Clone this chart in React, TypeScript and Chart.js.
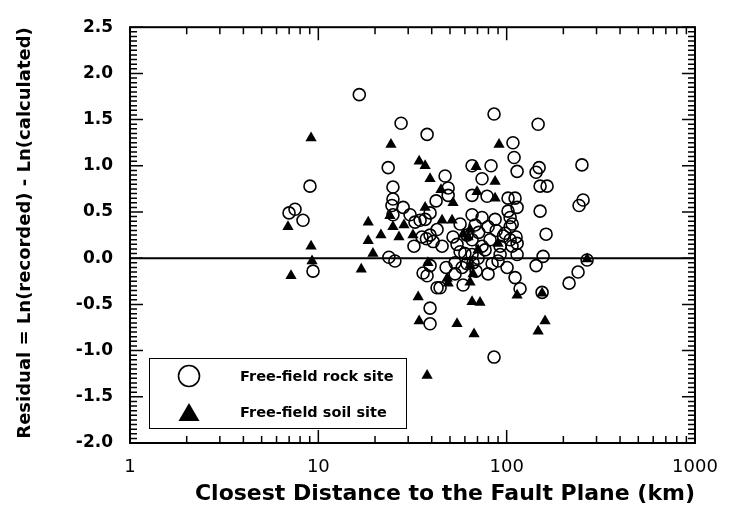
import React, { useEffect, useRef } from 'react';
import { Chart, registerables } from 'chart.js';

Chart.register(...registerables);

// ---- Data ----
const rockDistance = [
  6.99, 7.52, 8.29, 9.03, 9.37, 16.5, 27.5, 37.8, 85.7, 146.9,
  108, 109.5, 113.6, 23.5, 65.5, 82.6, 148.7, 143.3, 251, 47.1,
  74.0, 48.9, 150.5, 163.9, 24.9, 24.9, 24.6, 28.2, 30.7, 24.9,
  32.6, 65.5, 78.7, 101.7, 110.8, 113.6, 101.7, 150.5, 254.5, 242.4,
  161.9, 42.2, 39.2, 36.9, 39.2, 32.2, 35.5, 42.7, 65.5, 74.0,
  68.0, 79.7, 86.8, 56.6, 104.3, 104.3, 112.2, 113.6, 106.8, 92.3,
  65.5, 156.1, 23.7, 25.5, 37.5, 40.7, 45.4, 54.5, 61.6, 65.5,
  74.0, 81.6, 92.3, 104.3, 113.6, 36.0, 39.2, 53.2, 58.0, 61.6,
  66.3, 83.7, 90.0, 100.5, 110.8, 117.8, 44.3, 58.7, 39.2, 39.2,
  85.7, 154.2, 214.5, 239.4, 143.3, 267.3, 37.8, 42.7, 48.9, 34.7,
  56.6, 70.5, 76.8, 98.1, 51.9, 68.8, 47.7, 79.7, 53.2, 88.0,
  96.0, 60.0, 71.0, 107.0,
];
const rockResidual = [
  0.49, 0.53, 0.41, 0.78, -0.14, 1.77, 1.46, 1.34, 1.56, 1.45,
  1.25, 1.09, 0.94, 0.98, 1.0, 1.0, 0.98, 0.93, 1.01, 0.89,
  0.86, 0.76, 0.78, 0.78, 0.77, 0.64, 0.57, 0.55, 0.47, 0.47,
  0.39, 0.68, 0.67, 0.65, 0.65, 0.55, 0.51, 0.51, 0.63, 0.57,
  0.26, 0.62, 0.49, 0.42, 0.25, 0.13, 0.23, 0.31, 0.47, 0.44,
  0.36, 0.34, 0.42, 0.37, 0.44, 0.34, 0.23, 0.16, 0.13, 0.13,
  0.2, 0.02, 0.01, -0.03, 0.21, 0.18, 0.13, 0.15, 0.25, 0.04,
  0.13, 0.2, 0.04, 0.2, 0.04, -0.16, -0.08, -0.05, -0.1, -0.06,
  -0.05, -0.06, -0.03, -0.1, -0.21, -0.33, -0.32, -0.29, -0.54, -0.71,
  -1.07, -0.37, -0.27, -0.15, -0.08, -0.02, -0.19, -0.32, 0.68, 0.41,
  0.07, 0.0, 0.09, 0.27, 0.23, -0.14, -0.1, -0.17, -0.17, 0.3,
  0.24, 0.05, 0.28, 0.37,
];
const soilDistance = [
  6.9, 9.15, 9.15, 9.26, 7.16, 16.9, 18.4, 18.4, 19.5, 21.5,
  24.3, 24.0, 24.9, 26.8, 28.5, 31.8, 34.3, 36.9, 39.2, 36.9,
  44.8, 51.9, 45.4, 51.3, 58.7, 63.9, 68.8, 91.1, 86.8, 69.6,
  86.8, 90.0, 62.4, 267.3, 38.2, 33.9, 34.3, 48.3, 48.9, 63.9,
  66.3, 63.9, 65.5, 72.2, 54.5, 67.1, 37.8, 113.6, 159.9, 146.9,
  154.2, 70.5,
];
const soilResidual = [
  0.34, 1.3, 0.13, -0.03, -0.19, -0.12, 0.39, 0.19, 0.05, 0.25,
  1.23, 0.46, 0.34, 0.23, 0.36, 0.25, 1.05, 1.0, 0.86, 0.55,
  0.74, 0.6, 0.41, 0.41, 0.26, 0.31, 0.99, 1.23, 0.83, 0.72,
  0.65, 0.16, 0.23, -0.01, -0.05, -0.42, -0.68, -0.22, -0.27, -0.08,
  -0.17, -0.26, -0.47, -0.48, -0.71, -0.82, -1.27, -0.4, -0.68, -0.79,
  -0.38, 0.09,
];
const xTickValues = [1, 10, 100, 1000];
const yMin = -2.0;
const yMax = 2.5;
const yStep = 0.5;
const xTitle = 'Closest Distance to the Fault Plane (km)';
const yTitle = 'Residual = Ln(recorded) - Ln(calculated)';
const legendLabels = ['Free-field rock site', 'Free-field soil site'];

const FONT = "'DejaVu Sans', sans-serif";

const framePlugin = {
  id: 'frame',
  beforeDatasetsDraw(chart: any) {
    const { ctx, chartArea: a, scales } = chart;
    const y0 = scales.y.getPixelForValue(0);
    ctx.save();
    ctx.strokeStyle = '#000';
    ctx.lineWidth = 2;
    ctx.beginPath();
    ctx.moveTo(a.left, y0);
    ctx.lineTo(a.right, y0);
    ctx.stroke();
    ctx.restore();
  },
  afterDatasetsDraw(chart: any) {
    const { ctx, chartArea: a, scales } = chart;
    const x = scales.x;
    const y = scales.y;
    ctx.save();
    ctx.strokeStyle = '#000';
    ctx.lineWidth = 1.5;
    ctx.beginPath();
    const n = Math.round((yMax - yMin) / 0.05);
    for (let i = 0; i <= n; i++) {
      const v = yMin + i * 0.05;
      const py = y.getPixelForValue(v);
      const len = i % 10 === 0 ? 13 : 7;
      ctx.moveTo(a.left, py);
      ctx.lineTo(a.left + len, py);
      ctx.moveTo(a.right, py);
      ctx.lineTo(a.right - len, py);
    }
    for (let dec = 1; dec < 1000; dec *= 10) {
      for (let m = 1; m < 10; m++) {
        const px = x.getPixelForValue(dec * m);
        const len = m === 1 ? 13 : 7;
        ctx.moveTo(px, a.bottom);
        ctx.lineTo(px, a.bottom - len);
        ctx.moveTo(px, a.top);
        ctx.lineTo(px, a.top + len);
      }
    }
    ctx.stroke();
    ctx.lineWidth = 2;
    ctx.strokeRect(a.left, a.top, a.right - a.left, a.bottom - a.top);
    ctx.restore();
  },
  afterDraw(chart: any) {
    const { ctx } = chart;
    ctx.save();
    const bx = 149, by = 358, bw = 257, bh = 70;
    ctx.fillStyle = '#fff';
    ctx.fillRect(bx, by, bw, bh);
    ctx.strokeStyle = '#000';
    ctx.lineWidth = 1;
    ctx.strokeRect(bx + 0.5, by + 0.5, bw, bh);
    // circle symbol
    ctx.lineWidth = 1.6;
    ctx.beginPath();
    ctx.arc(189, 376, 10.5, 0, Math.PI * 2);
    ctx.stroke();
    // triangle symbol
    ctx.fillStyle = '#000';
    ctx.beginPath();
    ctx.moveTo(189, 403);
    ctx.lineTo(199.5, 421);
    ctx.lineTo(178.5, 421);
    ctx.closePath();
    ctx.fill();
    ctx.font = `bold 14.5px ${FONT}`;
    ctx.textBaseline = 'middle';
    ctx.textAlign = 'left';
    ctx.fillText(legendLabels[0], 240, 377);
    ctx.fillText(legendLabels[1], 240, 413);
    ctx.restore();
  },
};

export default function App() {
  const canvasRef = useRef<HTMLCanvasElement | null>(null);

  useEffect(() => {
    document.body.style.margin = '0';
    const canvas = canvasRef.current;
    if (!canvas) return;
    const rockData = rockDistance.map((d, i) => ({ x: d, y: rockResidual[i] }));
    const soilData = soilDistance.map((d, i) => ({ x: d, y: soilResidual[i] }));
    const chart = new Chart(canvas, {
      type: 'scatter',
      data: {
        datasets: [
          {
            label: legendLabels[0],
            data: rockData,
            pointStyle: 'circle',
            pointRadius: 6,
            borderWidth: 1.6,
            borderColor: '#000',
            backgroundColor: 'rgba(0,0,0,0)',
            order: 1,
          },
          {
            label: legendLabels[1],
            data: soilData,
            pointStyle: 'triangle',
            pointRadius: 6.5,
            borderWidth: 0,
            borderColor: '#000',
            backgroundColor: '#000',
            order: 0,
          },
        ],
      },
      options: {
        responsive: false,
        animation: false,
        layout: { padding: { left: 0, right: 42, top: 14, bottom: 0 } },
        plugins: {
          legend: { display: false },
          tooltip: { enabled: false },
        },
        scales: {
          x: {
            type: 'logarithmic',
            min: 1,
            max: 1000,
            grid: { display: false, drawTicks: false },
            border: { display: false },
            afterBuildTicks: (scale: any) => {
              scale.ticks = xTickValues.map((v) => ({ value: v, major: true }));
            },
            afterFit: (scale: any) => {
              scale.height = 67;
            },
            ticks: {
              color: '#000',
              padding: 14,
              maxRotation: 0,
              autoSkip: false,
              font: { family: FONT, size: 18 },
              callback: (v: any) => String(v),
            },
            title: {
              display: true,
              text: xTitle,
              align: 'end',
              color: '#000',
              font: { family: FONT, size: 22, weight: 'bold' },
              padding: { top: 0, bottom: 3 },
            },
          },
          y: {
            type: 'linear',
            min: yMin,
            max: yMax,
            grid: { display: false, drawTicks: false },
            border: { display: false },
            afterFit: (scale: any) => {
              scale.width = 130;
            },
            ticks: {
              stepSize: yStep,
              color: '#000',
              padding: 17,
              font: { family: FONT, size: 17, weight: 'bold' },
              callback: (v: any) => Number(v).toFixed(1),
            },
            title: {
              display: true,
              text: yTitle,
              align: 'end',
              color: '#000',
              font: { family: FONT, size: 18, weight: 'bold' },
              padding: { top: 15, bottom: 0 },
            },
          },
        },
      },
      plugins: [framePlugin],
    });
    return () => chart.destroy();
  }, []);

  return (
    <div style={{ position: 'fixed', left: 0, top: 0, width: 737, height: 510, background: '#fff' }}>
      <canvas ref={canvasRef} width={737} height={510} />
    </div>
  );
}
